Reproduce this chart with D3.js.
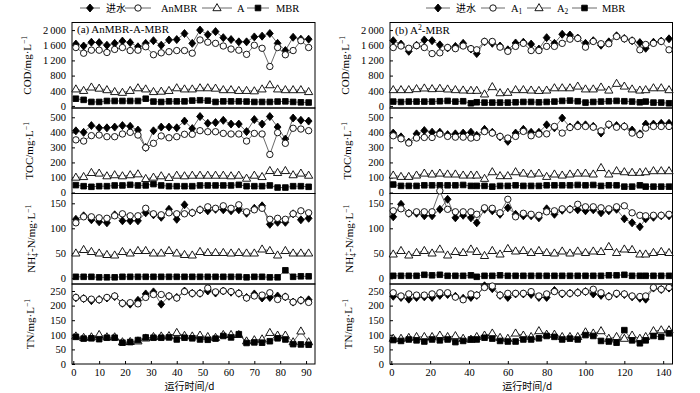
<!DOCTYPE html>
<html>
<head>
<meta charset="utf-8">
<script src="https://cdn.jsdelivr.net/npm/d3@7"></script>
<style>
  body { margin: 0; background: #fff; }
  text { font-family: "Liberation Serif", "Times New Roman", serif; fill: #000; }
  .cjk { font-family: "Noto Sans CJK SC", sans-serif; }
</style>
</head>
<body>
<svg width="700" height="393"></svg>
<script>
// sampling days
const daysA = [1, 4, 7, 10, 13, 16, 19, 22, 25, 28, 31, 34, 37, 40, 43, 46, 49, 52, 55, 58, 61, 64, 67, 70, 73, 76, 79, 82, 85, 88, 91]
const daysB = [1, 5, 9, 13, 17, 21, 25, 29, 33, 37, 41, 44, 48, 52, 56, 60, 64, 68, 72, 76, 80, 84, 88, 92, 96, 100, 104, 108, 112, 116, 120, 124, 128, 131, 135, 139, 143]

// (a) AnMBR-A-MBR
const aCodIn = [1630, 1580, 1680, 1670, 1600, 1650, 1710, 1670, 1560, 1650, 1720, 1600, 1740, 1750, 1910, 1650, 2000, 1880, 1960, 1800, 1750, 1690, 1690, 1820, 1840, 1910, 1650, 1460, 1810, 1760, 1760]
const aCodAn = [1540, 1390, 1470, 1470, 1410, 1490, 1540, 1460, 1470, 1560, 1350, 1400, 1430, 1460, 1460, 1390, 1740, 1680, 1650, 1580, 1500, 1470, 1360, 1600, 1520, 1040, 1540, 1350, 1460, 1720, 1540]
const aCodA = [440, 400, 490, 460, 420, 370, 350, 400, 470, 440, 370, 380, 400, 470, 440, 440, 470, 470, 460, 420, 420, 400, 400, 390, 440, 550, 440, 420, 420, 420, 370]
const aCodMbr = [190, 160, 105, 105, 130, 130, 130, 130, 130, 190, 115, 105, 120, 120, 120, 140, 150, 140, 105, 120, 120, 120, 115, 105, 105, 105, 115, 120, 105, 95, 90]

const aTocIn = [410, 400, 445, 430, 430, 435, 445, 440, 415, 300, 410, 435, 435, 430, 475, 425, 505, 460, 465, 480, 455, 455, 405, 485, 455, 505, 435, 355, 495, 480, 475]
const aTocAn = [350, 342, 378, 382, 371, 371, 389, 400, 382, 298, 327, 376, 364, 371, 387, 387, 411, 404, 404, 393, 389, 389, 342, 393, 389, 253, 398, 327, 427, 422, 411]
const aTocA = [100, 104, 131, 127, 109, 116, 109, 116, 122, 91, 100, 109, 98, 113, 109, 113, 113, 113, 113, 113, 109, 113, 93, 113, 104, 144, 131, 144, 116, 127, 113]
const aTocMbr = [49, 42, 38, 42, 42, 47, 47, 51, 47, 47, 56, 47, 42, 42, 42, 42, 47, 47, 47, 47, 47, 51, 42, 42, 42, 47, 33, 33, 42, 42, 38]

const aNh4In = [118, 125, 117, 113, 111, 127, 115, 115, 115, 131, 127, 122, 138, 118, 147, 131, 137, 135, 138, 137, 135, 137, 130, 140, 145, 108, 112, 112, 129, 117, 120]
const aNh4An = [111, 123, 123, 121, 120, 125, 129, 125, 125, 140, 129, 127, 131, 129, 129, 131, 137, 143, 140, 145, 140, 147, 133, 137, 140, 118, 120, 118, 129, 135, 131]
const aNh4A = [50, 57, 53, 50, 47, 46, 53, 50, 55, 55, 50, 50, 55, 50, 47, 46, 53, 51, 51, 51, 50, 51, 50, 50, 58, 55, 46, 55, 50, 50, 50]
const aNh4Mbr = [3, 3, 3, 2, 2, 2, 3, 3, 3, 3, 3, 3, 3, 3, 3, 3, 3, 3, 3, 3, 3, 3, 2, 3, 3, 2, 2, 16, 3, 4, 4]

const aTnIn = [227, 224, 217, 221, 226, 231, 208, 205, 218, 240, 247, 205, 232, 228, 250, 242, 242, 250, 243, 250, 246, 242, 228, 240, 226, 228, 233, 230, 212, 218, 220]
const aTnAn = [228, 224, 222, 220, 228, 233, 208, 210, 206, 228, 238, 238, 233, 226, 248, 242, 242, 260, 247, 250, 248, 242, 226, 233, 236, 244, 221, 230, 212, 218, 211]
const aTnA = [95, 90, 92, 100, 92, 92, 75, 76, 78, 88, 93, 95, 96, 107, 97, 95, 98, 93, 90, 100, 100, 100, 78, 82, 85, 107, 98, 98, 75, 112, 75]
const aTnMbr = [93, 87, 88, 85, 90, 90, 73, 75, 82, 91, 90, 90, 91, 84, 90, 88, 84, 83, 87, 96, 91, 102, 72, 74, 73, 78, 88, 84, 68, 67, 66]

// (b) A2-MBR
const bCodIn = [1720, 1630, 1440, 1600, 1740, 1720, 1610, 1530, 1570, 1650, 1500, 1380, 1690, 1650, 1580, 1480, 1660, 1680, 1630, 1500, 1800, 1650, 1890, 1870, 1790, 1650, 1720, 1600, 1690, 1850, 1780, 1720, 1670, 1520, 1680, 1710, 1770]
const bCodA1 = [1540, 1580, 1520, 1590, 1540, 1380, 1400, 1540, 1510, 1580, 1510, 1480, 1700, 1700, 1550, 1440, 1570, 1650, 1460, 1460, 1570, 1570, 1650, 1760, 1780, 1550, 1700, 1640, 1640, 1830, 1770, 1720, 1480, 1620, 1650, 1700, 1480]
const bCodA2 = [421, 421, 421, 447, 465, 447, 456, 439, 421, 412, 403, 403, 307, 500, 340, 350, 421, 421, 410, 400, 410, 470, 470, 470, 515, 440, 440, 490, 410, 587, 515, 440, 410, 420, 470, 470, 420]
const bCodMbr = [114, 105, 114, 114, 114, 114, 123, 132, 114, 123, 70, 96, 88, 88, 88, 88, 96, 105, 105, 96, 105, 114, 132, 140, 123, 88, 105, 114, 123, 132, 123, 114, 96, 114, 88, 88, 70]

const bTocIn = [395, 370, 335, 390, 412, 401, 401, 385, 390, 395, 401, 380, 420, 400, 370, 340, 395, 420, 400, 400, 450, 430, 495, 435, 450, 450, 440, 395, 450, 445, 440, 415, 390, 455, 455, 460, 460]
const bTocA1 = [377, 357, 329, 362, 366, 366, 388, 373, 368, 368, 362, 366, 405, 395, 373, 362, 373, 406, 377, 388, 390, 439, 395, 432, 439, 439, 434, 410, 454, 434, 439, 395, 384, 428, 439, 439, 439]
const bTocA2 = [114, 105, 105, 114, 127, 121, 127, 121, 121, 114, 114, 114, 92, 136, 110, 110, 136, 127, 121, 127, 105, 121, 114, 121, 127, 127, 121, 164, 121, 143, 136, 132, 132, 136, 143, 143, 143]
const bTocMbr = [53, 44, 44, 44, 48, 48, 48, 48, 48, 50, 44, 44, 44, 39, 44, 44, 48, 44, 44, 44, 48, 48, 48, 48, 50, 48, 50, 44, 48, 48, 39, 39, 48, 39, 39, 39, 39]

const bNh4In = [123, 148, 130, 130, 125, 125, 138, 158, 121, 126, 121, 111, 138, 135, 128, 141, 128, 125, 125, 121, 139, 128, 136, 138, 137, 135, 137, 131, 135, 138, 119, 111, 103, 119, 122, 125, 125]
const bNh4A1 = [135, 139, 130, 133, 133, 133, 175, 138, 133, 133, 133, 128, 141, 140, 131, 158, 123, 130, 128, 126, 133, 135, 139, 138, 148, 143, 143, 141, 139, 143, 145, 131, 126, 125, 126, 126, 128]
const bNh4A2 = [48, 55, 46, 51, 55, 50, 58, 46, 53, 51, 58, 53, 45, 55, 48, 59, 54, 55, 51, 55, 51, 50, 54, 50, 54, 51, 54, 53, 63, 51, 58, 57, 48, 48, 51, 53, 51]
const bNh4Mbr = [5, 5, 5, 5, 7, 6, 7, 5, 5, 5, 6, 3, 5, 5, 6, 5, 5, 5, 5, 5, 5, 5, 5, 5, 5, 5, 5, 5, 6, 6, 7, 5, 5, 5, 5, 5, 5]

const bTnIn = [232, 228, 222, 228, 230, 228, 235, 238, 232, 225, 228, 235, 268, 258, 235, 228, 240, 240, 238, 228, 228, 252, 240, 242, 245, 248, 240, 235, 232, 240, 238, 230, 225, 222, 260, 255, 260]
const bTnA1 = [244, 233, 240, 236, 236, 240, 244, 244, 229, 220, 240, 236, 262, 267, 236, 242, 242, 242, 248, 233, 240, 248, 242, 242, 244, 248, 256, 244, 231, 242, 240, 233, 231, 233, 262, 256, 262]
const bTnA2 = [87, 87, 90, 93, 93, 93, 98, 93, 96, 87, 84, 93, 98, 105, 90, 87, 105, 98, 93, 113, 101, 101, 93, 93, 93, 109, 105, 113, 87, 93, 87, 98, 87, 93, 113, 116, 116]
const bTnMbr = [82, 79, 84, 81, 77, 84, 81, 84, 75, 79, 84, 84, 90, 87, 79, 77, 77, 84, 84, 88, 96, 93, 84, 87, 84, 99, 96, 79, 77, 73, 116, 81, 71, 81, 96, 93, 105]

const ticksA = [0, 10, 20, 30, 40, 50, 60, 70, 80, 90]
const ticksB = [0, 20, 40, 60, 80, 100, 120, 140]
const codTicks = [0, 400, 800, 1200, 1600, 2000]
const tocTicks = [0, 100, 200, 300, 400, 500]
const nh4Ticks = [0, 50, 100, 150]
const tnTicks = [0, 50, 100, 150, 200, 250]

const legendA = ['进水', 'AnMBR', 'A', 'MBR']
const legendB = ['进水', 'A1', 'A2', 'MBR']

const svg = d3.select('svg')
const serif = '"Liberation Serif", "Times New Roman", serif'
const spaced = d3.formatLocale({ decimal: '.', thousands: '\u2009', grouping: [3], currency: ['', ''] }).format(',')

const rows = [
  { top: 22.5, bottom: 108, domain: [-55, 2200], ticks: codTicks, fmt: spaced, titleOff: 41, title: [['COD/mg·L'], ['−1', 'sup']] },
  { top: 108, bottom: 193.5, domain: [-6.6, 561.8], ticks: tocTicks, fmt: d3.format('d'), titleOff: 39, title: [['TOC/mg·L'], ['−1', 'sup']] },
  { top: 193.5, bottom: 284, domain: [-11.4, 169.6], ticks: nh4Ticks, fmt: d3.format('d'), titleOff: 37, title: [['NH'], ['4', 'sub'], ['+', 'supx'], ['-N/mg·L'], ['−1', 'sup']] },
  { top: 284, bottom: 364, domain: [0, 274], ticks: tnTicks, fmt: d3.format('d'), titleOff: 38, title: [['TN/mg·L'], ['−1', 'sup']] }
]

const panels = [
  {
    left: 72, right: 315, xDomain: [-0.5, 93.46], xTicks: ticksA, days: daysA,
    label: [['(a) AnMBR-A-MBR']], labelY: 33,
    data: [[aCodIn, aCodAn, aCodA, aCodMbr], [aTocIn, aTocAn, aTocA, aTocMbr], [aNh4In, aNh4An, aNh4A, aNh4Mbr], [aTnIn, aTnAn, aTnA, aTnMbr]],
    legend: legendA, legendPos: [[80, 100, 106], [125, 151, 161], [202, 232, 237], [247, 269, 276]]
  },
  {
    left: 390, right: 672.5, xDomain: [-0.67, 144.8], xTicks: ticksB, days: daysB,
    label: [['(b) A'], ['2', 'sup'], ['-MBR']], labelY: 34,
    data: [[bCodIn, bCodA1, bCodA2, bCodMbr], [bTocIn, bTocA1, bTocA2, bTocMbr], [bNh4In, bNh4A1, bNh4A2, bNh4Mbr], [bTnIn, bTnA1, bTnA2, bTnMbr]],
    legend: legendB, legendPos: [[426, 450, 456], [481, 505, 511], [527, 551, 557], [572, 597, 602]]
  }
]

const shapes = {
  diamond: 'M0,-4L3.4,0L0,4L-3.4,0Z',
  circle: d3.symbol(d3.symbolCircle, Math.PI * 3.2 * 3.2)(),
  triangle: 'M0,-4.4L4.1,2.7L-4.1,2.7Z',
  square: 'M-2.8,-2.8h5.6v5.6h-5.6Z'
}
const styles = [
  { shape: 'diamond', fill: '#000' },
  { shape: 'circle', fill: '#fff' },
  { shape: 'triangle', fill: '#fff' },
  { shape: 'square', fill: '#000' }
]

// writes a piece list (text, sub/sup) into a text element
const richText = (el, parts, size) => {
  let shift = 0
  parts.forEach(([t, kind]) => {
    const sp = el.append('tspan').text(t)
    let target = 0
    if (kind === 'sup') target = -size * 0.38
    if (kind === 'sub') target = size * 0.25
    if (kind === 'supx') { target = -size * 0.38; sp.attr('dx', -size * 0.3) }
    if (kind) sp.attr('font-size', size * 0.7)
    sp.attr('dy', target - shift)
    shift = target
  })
}

panels.forEach((p) => {
  const x = d3.scaleLinear().domain(p.xDomain).range([p.left, p.right])

  rows.forEach((r, ri) => {
    const y = d3.scaleLinear().domain(r.domain).range([r.bottom, r.top])
    const g = svg.append('g')

    g.append('rect')
      .attr('x', p.left).attr('y', r.top)
      .attr('width', p.right - p.left).attr('height', r.bottom - r.top)
      .attr('fill', 'none').attr('stroke', '#000').attr('stroke-width', 1)

    g.append('g')
      .attr('transform', `translate(${p.left},0)`)
      .call(d3.axisLeft(y).tickValues(r.ticks).tickSize(-3).tickPadding(6).tickFormat(r.fmt))
      .attr('font-family', serif).attr('font-size', 10.5)
      .call(a => a.select('.domain').remove())

    const title = g.append('text')
      .attr('transform', `translate(${p.left - r.titleOff},${(r.top + r.bottom) / 2}) rotate(-90)`)
      .attr('text-anchor', 'middle')
      .attr('font-size', 11)
    richText(title, r.title, 11)

    const line = d3.line().x((d, i) => x(p.days[i])).y((d) => y(d))

    p.data[ri].forEach((vals, si) => {
      const st = styles[si]
      g.append('path')
        .attr('d', line(vals))
        .attr('fill', 'none').attr('stroke', '#444').attr('stroke-width', 0.8)

      g.selectAll(null).data(vals).enter().append('path')
        .attr('d', shapes[st.shape])
        .attr('transform', (d, i) => `translate(${x(p.days[i])},${y(d)})`)
        .attr('fill', st.fill).attr('stroke', '#000').attr('stroke-width', 0.9)
    })

    if (ri === rows.length - 1) {
      g.append('g')
        .attr('transform', `translate(0,${r.bottom})`)
        .call(d3.axisBottom(x).tickValues(p.xTicks).tickSize(-3).tickPadding(5))
        .attr('font-family', serif).attr('font-size', 10.5)
        .call(a => a.select('.domain').remove())

      svg.append('text')
        .attr('class', 'cjk')
        .attr('x', (p.left + p.right) / 2 - 4).attr('y', 390)
        .attr('text-anchor', 'middle').attr('font-size', 10)
        .text('运行时间/d')
    }
  })

  const lab = svg.append('text').attr('x', p.left + 5).attr('y', p.labelY).attr('font-size', 11)
  richText(lab, p.label, 11)

  // legend
  p.legend.forEach((name, i) => {
    const [x1, x2, tx] = p.legendPos[i]
    const st = styles[i]
    const lg = svg.append('g')
    lg.append('line').attr('x1', x1).attr('x2', x2).attr('y1', 8).attr('y2', 8)
      .attr('stroke', '#444').attr('stroke-width', 0.8)
    lg.append('path').attr('d', shapes[st.shape])
      .attr('transform', `translate(${(x1 + x2) / 2},8)`)
      .attr('fill', st.fill).attr('stroke', '#000').attr('stroke-width', 0.9)
    const t = lg.append('text').attr('x', tx).attr('y', 11.5).attr('font-size', 10.5)
    if (name === '进水') {
      t.attr('class', 'cjk').attr('font-size', 10).text(name)
    } else if (/^A\d$/.test(name)) {
      richText(t, [['A'], [name[1], 'sub']], 10.5)
    } else {
      t.text(name)
    }
  })
})
</script>
</body>
</html>
